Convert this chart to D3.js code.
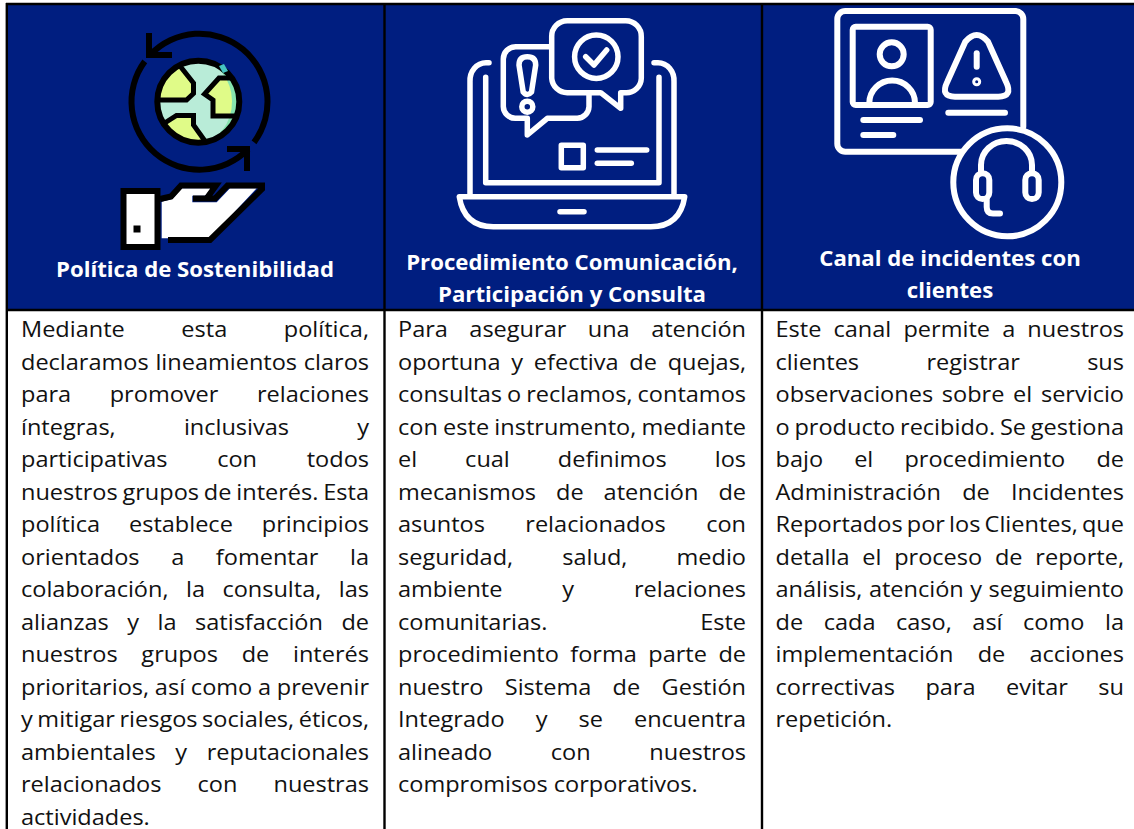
<!DOCTYPE html>
<meta charset="utf-8">
<style>
  html, body { margin: 0; padding: 0; background: #fff; overflow: hidden; }
  svg { display: block; }
</style>

<!-- Load d3.js -->
<script src="https://d3js.org/d3.v7.min.js"></script>

<div id="my_table"></div>

<script>

// table content
var columns = ["politica", "procedimiento", "canal"];

var headerPolitica = ["Política de Sostenibilidad"];
var headerProcedimiento = ["Procedimiento Comunicación,", "Participación y Consulta"];
var headerCanal = ["Canal de incidentes con", "clientes"];

var bodyPolitica = [
  "Mediante esta política,",
  "declaramos lineamientos claros",
  "para promover relaciones",
  "íntegras, inclusivas y",
  "participativas con todos",
  "nuestros grupos de interés. Esta",
  "política establece principios",
  "orientados a fomentar la",
  "colaboración, la consulta, las",
  "alianzas y la satisfacción de",
  "nuestros grupos de interés",
  "prioritarios, así como a prevenir",
  "y mitigar riesgos sociales, éticos,",
  "ambientales y reputacionales",
  "relacionados con nuestras",
  "actividades."
];

var bodyProcedimiento = [
  "Para asegurar una atención",
  "oportuna y efectiva de quejas,",
  "consultas o reclamos, contamos",
  "con este instrumento, mediante",
  "el cual definimos los",
  "mecanismos de atención de",
  "asuntos relacionados con",
  "seguridad, salud, medio",
  "ambiente y relaciones",
  "comunitarias. Este",
  "procedimiento forma parte de",
  "nuestro Sistema de Gestión",
  "Integrado y se encuentra",
  "alineado con nuestros",
  "compromisos corporativos."
];

var bodyCanal = [
  "Este canal permite a nuestros",
  "clientes registrar sus",
  "observaciones sobre el servicio",
  "o producto recibido. Se gestiona",
  "bajo el procedimiento de",
  "Administración de Incidentes",
  "Reportados por los Clientes, que",
  "detalla el proceso de reporte,",
  "análisis, atención y seguimiento",
  "de cada caso, así como la",
  "implementación de acciones",
  "correctivas para evitar su",
  "repetición."
];

var headers = [headerPolitica, headerProcedimiento, headerCanal];
var bodies = [bodyPolitica, bodyProcedimiento, bodyCanal];

// layout
var width = 1134, height = 829;
var navy = "#001e80";
var font = "'Open Sans', sans-serif";
var bodyStretch = 1.07;  // the source text runs wider than Open Sans

var colLeft = d3.scaleOrdinal().domain(columns).range([7, 385, 762]);
var textLeft = d3.scaleOrdinal().domain(columns).range([21, 398, 775.5]);
var textRight = d3.scaleOrdinal().domain(columns).range([369, 746, 1124]);
var colRight = d3.scaleOrdinal().domain(columns).range([385, 762, 1134]);
var headCenter = d3.scaleOrdinal().domain(columns).range([195, 572, 950]);
var headFirstLine = d3.scaleOrdinal().domain(columns).range([277, 270, 266]);

var lineY = d3.scaleLinear().domain([0, 1]).range([337, 369.5]);

var svg = d3.select("#my_table")
  .append("svg")
    .attr("width", width)
    .attr("height", height);

// header cells
svg.selectAll("rect.head")
  .data(columns)
  .enter()
  .append("rect")
    .attr("class", "head")
    .attr("x", function(d) { return colLeft(d); })
    .attr("y", 4)
    .attr("width", function(d) { return colRight(d) - colLeft(d); })
    .attr("height", 306)
    .attr("fill", navy);

// grid lines
var grid = svg.append("g").attr("stroke", "#000").attr("stroke-width", 2.4);
grid.append("line").attr("x1", 6).attr("x2", width).attr("y1", 4).attr("y2", 4);
grid.append("line").attr("x1", 6).attr("x2", width).attr("y1", 310).attr("y2", 310);
[6.8, 384.5, 762].forEach(function(x) {
  grid.append("line").attr("x1", x).attr("x2", x).attr("y1", 3).attr("y2", height);
});

// header text
columns.forEach(function(c, i) {
  svg.selectAll("text.h" + i)
    .data(headers[i])
    .enter()
    .append("text")
      .attr("class", "h" + i)
      .attr("x", headCenter(c))
      .attr("y", function(d, j) { return headFirstLine(c) + j * 32; })
      .attr("text-anchor", "middle")
      .attr("font-family", font)
      .attr("font-weight", "bold")
      .attr("font-size", "22.2px")
      .attr("fill", "#fff")
      .text(function(d) { return d; });
});

// body text, justified with word-spacing except the last line of each cell
columns.forEach(function(c, i) {
  var lines = bodies[i];
  svg.selectAll("text.b" + i)
    .data(lines)
    .enter()
    .append("text")
      .attr("class", "b" + i)
      .attr("transform", function(d, j) {
        return "translate(" + textLeft(c) + "," + lineY(j) + ") scale(" + bodyStretch + ",1)";
      })
      .attr("font-family", font)
      .attr("font-size", "22px")
      .attr("fill", "#111")
      .text(function(d) { return d; })
      .each(function(d, j) {
        if (j == lines.length - 1) return;
        var gaps = d.split(" ").length - 1;
        var extra = (textRight(c) - textLeft(c)) / bodyStretch - this.getComputedTextLength();
        d3.select(this).style("word-spacing", (extra / gaps) + "px");
      });
});

// icon 1: globe and hand
var icon1 = svg.append("g");
var ring = d3.arc().innerRadius(65).outerRadius(71);
var toRad = Math.PI / 180;
[[-47.2, 126.7], [-225.7, -53.6]].forEach(function(a) {
  icon1.append("path")
    .attr("transform", "translate(199.5,101.7)")
    .attr("d", ring({startAngle: a[0] * toRad, endAngle: a[1] * toRad}))
    .attr("fill", "#000");
});
var ringStyle = function(sel) {
  return sel.attr("fill", "none").attr("stroke", "#000").attr("stroke-width", 6);
};
ringStyle(icon1.append("path")).attr("d", "M149 33 V55 H172");
ringStyle(icon1.append("path")).attr("d", "M227 149 H247 V171");

svg.append("clipPath").attr("id", "globe")
  .append("circle").attr("cx", 198.3).attr("cy", 101.7).attr("r", 41);

var globe = icon1.append("g").attr("clip-path", "url(#globe)");
var landLeft = "M180 66 L193.5 83 V93.5 L186.5 100 H150 V60 Z";
var landRight = "M250 78 H219 L204.5 94 L213 100 V116 H250 Z";
var landLow = "M160 126 L176.5 115.5 H193.5 V125 L205 141 V150 H160 Z";

globe.append("rect").attr("x", 150).attr("y", 55).attr("width", 100).attr("height", 95).attr("fill", "#b9ecd8");
[landLeft, landRight, landLow].forEach(function(p) {
  globe.append("path").attr("d", p).attr("fill", "#e0fb88");
});
globe.append("path")
  .attr("d", "M198.3 60 A41 41 0 0 1 198.3 143 A36 41 0 0 0 232 101 A36 41 0 0 0 198.3 60 Z")
  .attr("fill", "#86e4ae");
[landLeft, landRight, landLow].forEach(function(p) {
  globe.append("path").attr("d", p).attr("fill", "none").attr("stroke", "#000").attr("stroke-width", 5);
});
icon1.append("circle").attr("cx", 198.3).attr("cy", 101.7).attr("r", 41)
  .attr("fill", "none").attr("stroke", "#000").attr("stroke-width", 6);
icon1.append("path").attr("d", "M219 66 L224 64 L228 71 L223 73 Z").attr("fill", "#46c5c0");

icon1.append("path")
  .attr("d", "M161.7 201.7 L172.3 199 L181.7 188.3 H211.7 L205 195.7 H192.3 V202.3 H216.7 L230 188.3 H256.7 L210 238.3 H161.7 Z")
  .attr("fill", "#fff");
icon1.append("path")
  .attr("d", "M160 199 L171 196.5 L181 185.5 H216 L207 198")
  .attr("fill", "none").attr("stroke", "#000").attr("stroke-width", 6);
icon1.append("path")
  .attr("d", "M193 198.5 H215 L227.5 185.5 H262 V189 L210 240 H168")
  .attr("fill", "none").attr("stroke", "#000").attr("stroke-width", 6);
icon1.append("rect").attr("x", 123.5).attr("y", 191).attr("width", 34).attr("height", 56)
  .attr("fill", "#fff").attr("stroke", "#000").attr("stroke-width", 6);
icon1.append("rect").attr("x", 133.5).attr("y", 225.5).attr("width", 7).attr("height", 7).attr("fill", "#000");

// icons 2 and 3 share the same white outline look
var icon2 = svg.append("g")
  .attr("fill", "none").attr("stroke", "#fff").attr("stroke-width", 5.5)
  .attr("stroke-linecap", "round").attr("stroke-linejoin", "round");

[
  "M459.3 196.7 H684.7 Q680 226.7 650.7 226.7 H493.3 Q464 226.7 459.3 196.7 Z",
  "M560 211.7 H584",
  "M489 62.7 H486 A16 18 0 0 0 470 81.7 V195",
  "M654 62.7 H658 A16 18 0 0 1 674 81.7 V195",
  "M485.7 77.3 V182.7 H659 V77.3",
  "M597.3 150 H646.7",
  "M597.3 163.3 H631.3",
  "M550.7 46.7 H515.7 A12.4 12.4 0 0 0 503.3 59 V106.7 A12 12 0 0 0 515.7 118.3 H527.3 V135 L547.3 118.3 H577.3 A12 12 0 0 0 589 106.7 V95",
  "M567.3 20.7 H625.7 A15.6 15.6 0 0 1 641.3 36.7 V78.3 A15 15 0 0 1 625.7 92.7 H620.7 V108.3 L600.7 92.7 H567.3 A15.6 15.6 0 0 1 551.7 78.3 V36.7 A15.6 15.6 0 0 1 567.3 20.7 Z",
  "M585.7 56.7 L594 65 L606.7 50",
  "M519 65 Q519 56.7 527.3 56.7 Q535.7 56.7 535.7 65 L531.5 92 Q527.3 97 523.2 92 Z"
].forEach(function(p) { icon2.append("path").attr("d", p); });

icon2.append("rect").attr("x", 561.3).attr("y", 145.3).attr("width", 22).attr("height", 22.4);
icon2.append("circle").attr("cx", 596.3).attr("cy", 56.7).attr("r", 21.7);
icon2.append("circle").attr("cx", 527.3).attr("cy", 106.7).attr("r", 5.5);

var icon3 = svg.append("g")
  .attr("fill", "none").attr("stroke", "#fff").attr("stroke-width", 6)
  .attr("stroke-linecap", "round").attr("stroke-linejoin", "round");

[
  "M1023.3 126.7 V19 A8 8 0 0 0 1015.3 11 H845.3 A8 8 0 0 0 837.3 19 V143.7 A8 8 0 0 0 845.3 151.7 H963.3",
  "M869.3 103 A22.8 22.5 0 0 1 915 103",
  "M965.3 41.7 Q976.7 28.3 988 41.7 L1006 81.7 Q1013.3 96.7 998.3 96.7 H955 Q940 96.7 947.3 81.7 Z",
  "M976.7 53.3 V66.7",
  "M948.3 112.7 H1005",
  "M863.3 120 H920",
  "M863.3 135 H893.3"
].forEach(function(p) { icon3.append("path").attr("d", p); });

icon3.append("rect").attr("x", 852.7).attr("y", 26.7).attr("width", 78).attr("height", 78.3).attr("rx", 3);
icon3.append("circle").attr("cx", 891.7).attr("cy", 54.3).attr("r", 12);
icon3.append("circle").attr("cx", 976.7).attr("cy", 81.7).attr("r", 1.5);
icon3.append("circle").attr("cx", 1007.3).attr("cy", 182.3).attr("r", 54).attr("fill", navy);
icon3.append("path").attr("d", "M981 173 V165 A25.5 24 0 0 1 1032 165 V173");
icon3.append("path").attr("d", "M986.7 200 V207 Q986.7 213.5 993 213.5 H1000");
icon3.append("rect").attr("x", 976).attr("y", 173.3).attr("width", 13.3).attr("height", 25.7).attr("rx", 6.6);
icon3.append("rect").attr("x", 1025.3).attr("y", 173.3).attr("width", 13.4).attr("height", 25.7).attr("rx", 6.6);

</script>
